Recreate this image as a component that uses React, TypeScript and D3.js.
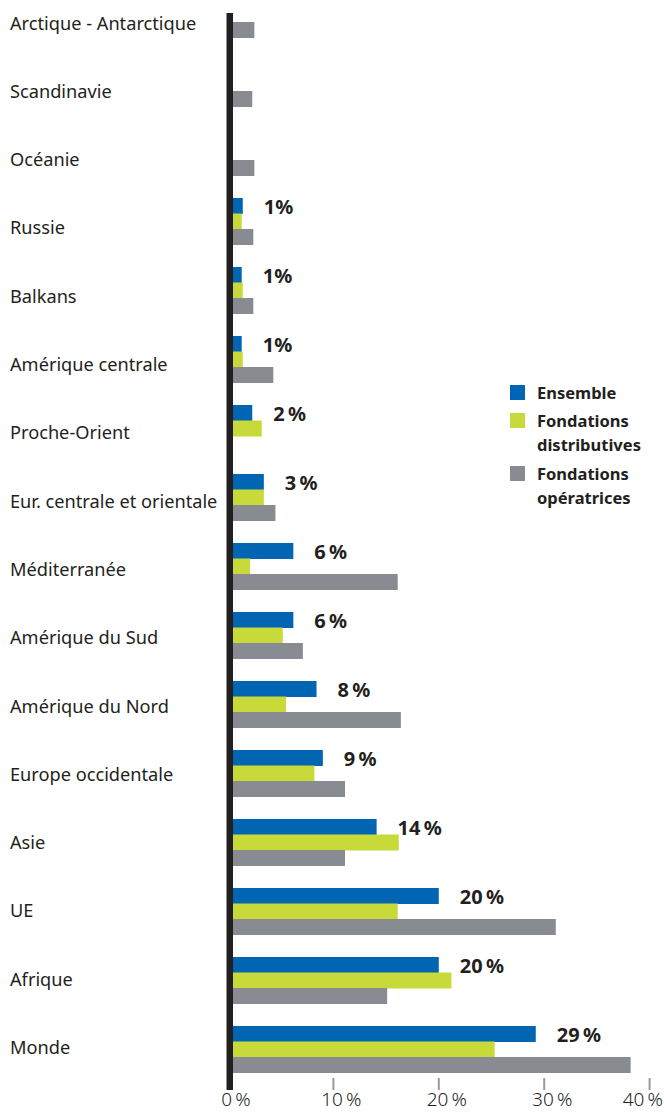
import React from "react";
import * as d3 from "d3";

const regions = [
  "Arctique - Antarctique",
  "Scandinavie",
  "Océanie",
  "Russie",
  "Balkans",
  "Amérique centrale",
  "Proche-Orient",
  "Eur. centrale et orientale",
  "Méditerranée",
  "Amérique du Sud",
  "Amérique du Nord",
  "Europe occidentale",
  "Asie",
  "UE",
  "Afrique",
  "Monde",
];

const ensemble = [0, 0, 0, 1.4, 1.3, 1.3, 2.3, 3.4, 6.2, 6.2, 8.4, 9.0, 14.1, 20.0, 20.0, 29.2];
const distributives = [0, 0, 0, 1.3, 1.4, 1.4, 3.2, 3.4, 2.1, 5.2, 5.5, 8.2, 16.2, 16.1, 21.2, 25.3];
const operatrices = [2.5, 2.3, 2.5, 2.4, 2.4, 4.3, 0, 4.5, 16.1, 7.1, 16.4, 11.1, 11.1, 31.1, 15.1, 38.2];

const series = ["Ensemble", "Fondations distributives", "Fondations opératrices"];
const legendLines = [["Ensemble"], ["Fondations", "distributives"], ["Fondations", "opératrices"]];
const colors = ["#0066b3", "#c8d93a", "#888b92"];
const xTicks = [0, 10, 20, 30, 40];

const W = 664;
const H = 1113;
const FONT = "'Noto Sans', sans-serif";
const INK = "#231f20";

export default function App() {
  const x = d3.scaleLinear().domain([0, 40]).range([228, 649.6]);
  const y = d3
    .scaleBand<string>()
    .domain(regions)
    .range([-20.25, -20.25 + 16 * 69])
    .paddingInner(0.326)
    .paddingOuter(0.163);
  const sub = d3.scaleBand<string>().domain(series).range([0, y.bandwidth()]);
  const labelY = d3.scalePoint<string>().domain(regions).range([29.5, 1054]);

  const values = [ensemble, distributives, operatrices];

  return (
    <svg
      width={W}
      height={H}
      style={{ position: "absolute", left: 0, top: 0, background: "#fff" }}
      fontFamily={FONT}
    >
      {/* bars */}
      {regions.map((r, i) => (
        <g key={r} transform={`translate(0,${y(r)})`}>
          {series.map((s, k) =>
            values[k][i] > 0 ? (
              <rect
                key={s}
                x={x(0)}
                y={sub(s)}
                width={x(values[k][i]) - x(0)}
                height={sub.bandwidth() + 0.5}
                fill={colors[k]}
              />
            ) : null
          )}
          {ensemble[i] > 0 && (
            <text
              x={x(ensemble[i]) + 21}
              y={(sub(series[0]) ?? 0) + sub.bandwidth()}
              fontSize={20}
              fontWeight={700}
              fill={INK}
            >
              {Math.round(ensemble[i]) === 1 ? "1%" : `${Math.round(ensemble[i])}\u2009%`}
            </text>
          )}
        </g>
      ))}

      {/* category labels */}
      {regions.map((r) => (
        <text key={r} x={10} y={labelY(r)} fontSize={18.2} fill={INK}>
          {r}
        </text>
      ))}

      {/* axis line */}
      <rect x={226.5} y={13} width={6.5} height={1077} fill={INK} />

      {/* ticks */}
      {xTicks.slice(1).map((t) => (
        <line key={t} x1={x(t)} x2={x(t)} y1={1078} y2={1090} stroke="#9a9a9a" strokeWidth={2} />
      ))}
      {xTicks.map((t, i) => (
        <text
          key={t}
          x={i === xTicks.length - 1 ? W - 1 : x(t) + 8}
          y={1106}
          textAnchor={i === xTicks.length - 1 ? "end" : "middle"}
          fontSize={19}
          fontWeight={300}
          fill={INK}
        >
          {`${t}\u2009%`}
        </text>
      ))}

      {/* legend */}
      {legendLines.map((lines, k) => {
        const top = [385, 413, 466][k];
        return (
          <g key={k}>
            <rect x={510} y={top} width={15} height={15} fill={colors[k]} />
            {lines.map((l, j) => (
              <text key={j} x={537} y={top + 13.5 + j * 24.5} fontSize={16.5} fontWeight={700} fill={INK}>
                {l}
              </text>
            ))}
          </g>
        );
      })}
    </svg>
  );
}
